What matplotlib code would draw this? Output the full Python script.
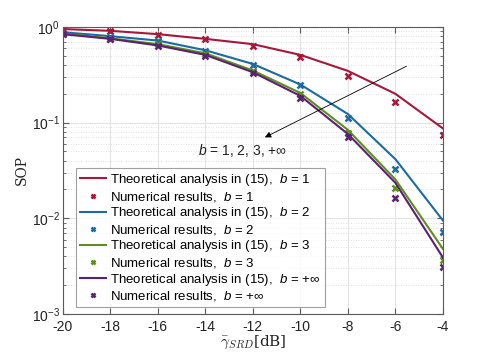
import matplotlib
matplotlib.use("Agg")
import matplotlib.pyplot as plt
import numpy as np
from matplotlib.ticker import LogLocator, NullFormatter

plt.rcParams['font.family'] = ['Liberation Sans', 'DejaVu Sans']
plt.rcParams['mathtext.fontset'] = 'custom'
plt.rcParams['mathtext.rm'] = 'Liberation Sans'
plt.rcParams['mathtext.it'] = 'Liberation Sans:italic'
plt.rcParams['mathtext.fallback'] = 'stixsans'

snr_db = [-20, -18, -16, -14, -12, -10, -8, -6, -4]

theory_b1 = [0.95, 0.91, 0.84, 0.75, 0.66, 0.51, 0.347, 0.20, 0.087]
sim_b1 = [0.94, 0.90, 0.83, 0.74, 0.63, 0.48, 0.31, 0.164, 0.075]
theory_b2 = [0.88, 0.80, 0.72, 0.57, 0.41, 0.25, 0.123, 0.0415, 0.0095]
sim_b2 = [0.87, 0.79, 0.71, 0.56, 0.40, 0.245, 0.112, 0.0326, 0.0072]
theory_b3 = [0.85, 0.76, 0.66, 0.53, 0.35, 0.204, 0.084, 0.0255, 0.0048]
sim_b3 = [0.845, 0.755, 0.655, 0.52, 0.345, 0.20, 0.078, 0.0205, 0.0037]
theory_binf = [0.84, 0.75, 0.64, 0.51, 0.336, 0.19, 0.076, 0.0235, 0.0039]
sim_binf = [0.835, 0.745, 0.635, 0.50, 0.33, 0.182, 0.070, 0.0164, 0.0031]

labels_b = ['1', '2', '3', r'+\infty']
colors = ['#A8163A', '#1B6AA2', '#5E8E22', '#5B2170']

fig = plt.figure(figsize=(4.91, 3.54), dpi=100)
ax = fig.add_axes([0.128, 0.113, 0.774, 0.811])

theories = [theory_b1, theory_b2, theory_b3, theory_binf]
sims = [sim_b1, sim_b2, sim_b3, sim_binf]
for th, sm, c, lb in zip(theories, sims, colors, labels_b):
    ax.plot(snr_db, th, '-', color=c, lw=1.5,
            label=r'Theoretical analysis in (15),  $b$ = $%s$' % lb)
    ax.plot(snr_db, sm, 'x', color=c, ms=4, mew=1.8, linestyle='none',
            label=r'Numerical results,  $b$ = $%s$' % lb)

ax.set_yscale('log')
ax.set_xlim(-20, -4)
ax.set_ylim(1e-3, 1)
ax.set_xticks(snr_db)
ax.set_xticklabels([str(v) for v in snr_db])
ax.yaxis.set_major_locator(LogLocator(base=10, numticks=10))
ax.yaxis.set_minor_locator(LogLocator(base=10, subs=np.arange(2, 10), numticks=10))
ax.yaxis.set_minor_formatter(NullFormatter())

ax.grid(True, which='major', color='#e3e3e3', lw=0.8, linestyle='-')
ax.grid(True, which='minor', axis='y', color='#d8d8d8', lw=0.6, linestyle=(0, (1, 2)))
ax.set_axisbelow(True)

for s in ax.spines.values():
    s.set_color('#5a5a5a')
    s.set_linewidth(0.8)
ax.tick_params(which='both', direction='in', top=True, right=True, colors='#5a5a5a',
               labelcolor='#222222', labelsize=10)
ax.tick_params(which='major', length=4)
ax.tick_params(which='minor', length=2)
ax.tick_params(axis='x', pad=4)
ax.tick_params(axis='y', pad=2)

ax.set_ylabel('SOP', family='DejaVu Serif', fontsize=10, color='#222222', labelpad=2)
ax.set_xlabel(r'$\bar{\gamma}_{SRD}$[dB]', fontsize=11, color='#222222',
              math_fontfamily='cm', family='DejaVu Serif', labelpad=0)

ax.annotate('', xy=(-11.6, 0.068), xytext=(-5.43, 0.40),
            arrowprops=dict(arrowstyle='-|>', color='black', lw=0.6,
                            mutation_scale=9))
ax.text(-14.3, 0.0507, r'$b$ = 1, 2, 3, +$\infty$', fontsize=10, color='#222222',
        va='center', ha='left')

leg = ax.legend(loc='lower left', bbox_to_anchor=(0.034, 0.024), fontsize=9.5,
                frameon=True, fancybox=False, edgecolor='#888888',
                handlelength=2.0, handletextpad=0.3, borderpad=0.3,
                labelspacing=0.12, borderaxespad=0.0, markerscale=0.8)
leg.get_frame().set_linewidth(0.8)

fig.savefig('out.png', dpi=100)
